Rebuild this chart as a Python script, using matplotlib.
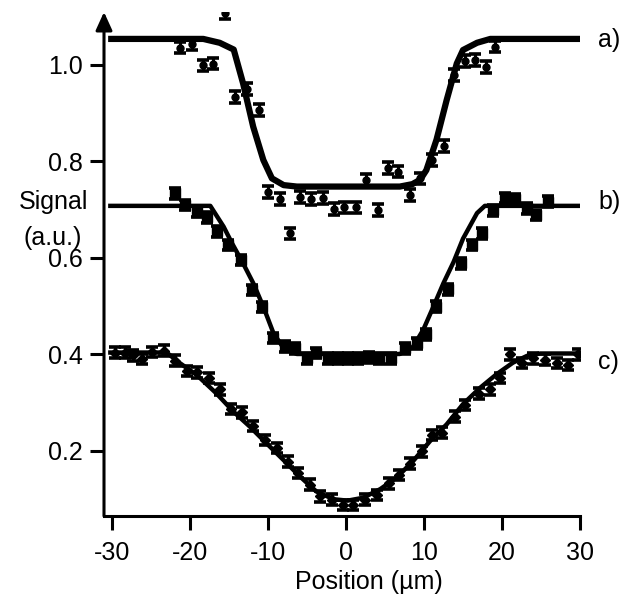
import matplotlib
matplotlib.use("Agg")
import matplotlib.pyplot as plt

plt.rcParams['font.family'] = ['Liberation Sans', 'DejaVu Sans']

# fitted curves
a_line_x = [-30.5, -18.3, -16.2, -14.4, -13.2, -11.9, -10.6, -9.5, -8.0, -6.3, 6.9, 8.5, 9.5, 10.3, 11.6, 12.9, 14.2, 15.0, 16.8, 18.5, 30.0]
a_line_y = [1.054, 1.054, 1.046, 1.032, 0.962, 0.872, 0.803, 0.765, 0.751, 0.748, 0.748, 0.753, 0.762, 0.782, 0.845, 0.927, 1.003, 1.031, 1.046, 1.054, 1.054]

b_line_x = [-30.5, -17.4, -15.7, -14.6, -13.2, -11.9, -10.6, -9.3, -8.0, -6.3, 6.9, 8.6, 9.9, 11.2, 12.5, 13.8, 15.0, 16.8, 17.8, 30.0]
b_line_y = [0.708, 0.708, 0.665, 0.630, 0.589, 0.548, 0.499, 0.444, 0.413, 0.401, 0.401, 0.416, 0.451, 0.499, 0.548, 0.592, 0.640, 0.693, 0.708, 0.708]

c_line_x = [-30.5, -23.0, -21.3, -19.1, -16.6, -14.4, -12.3, -10.2, -8.0, -5.9, -3.8, -1.6, 0.2, 2.2, 4.4, 6.5, 8.6, 10.8, 12.9, 15.0, 17.2, 19.3, 21.4, 23.2, 24.9, 30.0]
c_line_y = [0.404, 0.404, 0.382, 0.357, 0.319, 0.281, 0.250, 0.216, 0.181, 0.147, 0.116, 0.100, 0.097, 0.103, 0.121, 0.145, 0.179, 0.221, 0.255, 0.297, 0.331, 0.359, 0.383, 0.397, 0.402, 0.402]

# measured points
a_x = [-21.3, -19.8, -18.3, -17.0, -15.5, -14.2, -12.7, -11.1, -10.0, -8.5, -7.2, -5.9, -4.5, -3.0, -1.5, -0.2, 1.3, 2.6, 4.1, 5.4, 6.7, 8.2, 9.5, 11.0, 12.5, 13.8, 15.3, 16.5, 18.0, 19.1]
a_y = [1.036, 1.043, 0.999, 1.003, 1.107, 0.934, 0.950, 0.907, 0.737, 0.722, 0.651, 0.726, 0.722, 0.724, 0.701, 0.705, 0.705, 0.761, 0.699, 0.786, 0.779, 0.731, 0.765, 0.803, 0.832, 0.979, 1.008, 1.010, 0.996, 1.038]

b_x = [-21.9, -20.6, -19.1, -17.8, -16.5, -15.1, -13.5, -12.1, -10.8, -9.3, -7.8, -6.5, -5.0, -3.8, -2.3, -1.0, 0.3, 1.6, 2.9, 4.2, 5.8, 7.6, 9.1, 10.3, 11.6, 13.1, 14.8, 16.1, 17.4, 18.9, 20.4, 21.7, 23.2, 24.4, 25.9]
b_y = [0.734, 0.710, 0.696, 0.684, 0.655, 0.627, 0.596, 0.534, 0.498, 0.434, 0.416, 0.413, 0.392, 0.403, 0.392, 0.392, 0.392, 0.392, 0.394, 0.392, 0.392, 0.413, 0.423, 0.442, 0.499, 0.535, 0.589, 0.627, 0.651, 0.699, 0.724, 0.722, 0.703, 0.689, 0.717]

c_x = [-29.6, -28.4, -27.3, -26.1, -24.9, -23.4, -21.9, -20.4, -19.1, -17.6, -16.2, -14.7, -13.4, -11.9, -10.4, -8.9, -7.4, -6.1, -4.6, -3.3, -1.8, -0.4, 0.9, 2.4, 4.0, 5.5, 6.8, 8.2, 9.7, 11.0, 12.3, 14.0, 15.3, 17.0, 18.5, 19.8, 21.0, 22.5, 24.0, 25.5, 27.0, 28.5, 29.8]
c_y = [0.404, 0.404, 0.398, 0.391, 0.405, 0.408, 0.387, 0.366, 0.363, 0.351, 0.328, 0.287, 0.280, 0.252, 0.223, 0.206, 0.178, 0.154, 0.130, 0.106, 0.099, 0.088, 0.088, 0.099, 0.109, 0.133, 0.150, 0.174, 0.199, 0.233, 0.238, 0.271, 0.295, 0.319, 0.328, 0.351, 0.400, 0.382, 0.392, 0.389, 0.382, 0.378, 0.400]

x_ticks = [-30, -20, -10, 0, 10, 20, 30]
y_ticks = [0.2, 0.4, 0.6, 0.8, 1.0]
curve_labels = ['a)', 'b)', 'c)']

W, H = 628, 605
FS = 18
fig = plt.figure(figsize=(W / 100, H / 100), dpi=100)
L, R, T, B = 104, 580, 12, 516
ax = fig.add_axes([L / W, 1 - B / H, (R - L) / W, (B - T) / H])

ax.plot(a_line_x, a_line_y, color='k', lw=4.5, solid_capstyle='butt', zorder=3)
ax.plot(b_line_x, b_line_y, color='k', lw=3.2, solid_capstyle='butt', zorder=3)
ax.plot(c_line_x, c_line_y, color='k', lw=3.2, solid_capstyle='butt', zorder=3)

ax.errorbar(a_x, a_y, yerr=0.012, fmt='o', ms=5, color='k', ecolor='k',
            elinewidth=2.2, capsize=4.5, capthick=2.6, zorder=4)
ax.errorbar(b_x, b_y, yerr=0.011, fmt='s', ms=6.5, color='k', ecolor='k',
            elinewidth=2.2, capsize=4.5, capthick=2.6, zorder=4)
ax.errorbar(c_x, c_y, yerr=0.011, fmt='D', ms=5, color='k', ecolor='k',
            elinewidth=2.2, capsize=4.5, capthick=2.6, zorder=4)

ax.set_xlim(-31.03, 30.0)
ax.set_ylim(0.0652, 1.1098)
ax.set_xticks(x_ticks)
ax.set_xticklabels([str(t) for t in x_ticks])
ax.set_yticks(y_ticks)
ax.set_yticklabels(['%.1f' % t for t in y_ticks])

for s in ['top', 'right', 'left']:
    ax.spines[s].set_visible(False)
ax.spines['bottom'].set_linewidth(2.2)
ax.tick_params(axis='both', direction='out', length=10, width=2.2, labelsize=FS, colors='k')
ax.tick_params(axis='y', pad=5)
ax.tick_params(axis='x', pad=8)

# left axis with arrow head
ax.annotate('', xy=(0, 1), xytext=(0, 0), xycoords='axes fraction',
            arrowprops=dict(arrowstyle='-|>,head_length=1.1,head_width=0.5',
                            mutation_scale=10, lw=2.2, color='k',
                            shrinkA=0, shrinkB=0))

fig.text(53 / W, 1 - 202 / H, 'Signal', ha='center', va='center', fontsize=FS)
fig.text(53 / W, 1 - 238 / H, '(a.u.)', ha='center', va='center', fontsize=FS)
fig.text(369 / W, 1 - 582 / H, 'Position (µm)', ha='center', va='center', fontsize=FS)

for lab, yy in zip(curve_labels, [40, 202, 362]):
    fig.text(598 / W, 1 - yy / H, lab, ha='left', va='center', fontsize=FS)

fig.savefig('out.png', dpi=100)
